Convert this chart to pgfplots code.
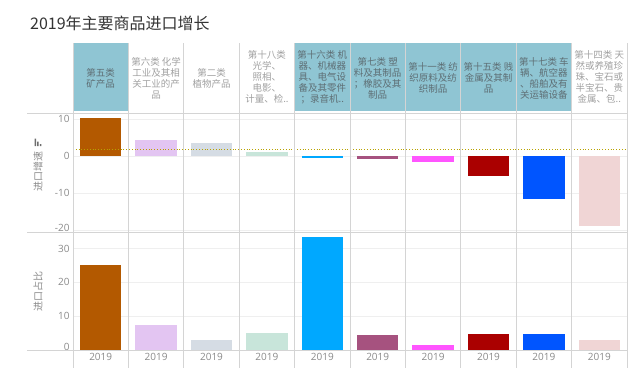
\documentclass[border=0pt]{standalone}
\usepackage{pgfplots}
\pgfplotsset{compat=1.18}
\usepackage{fontspec}
\setmainfont{Open Sans}
\newfontfamily\cjk{Noto Sans CJK SC}
\definecolor{hdrblue}{HTML}{8FC5D3}
\definecolor{sepc}{HTML}{D4D4D4}
\definecolor{gridc}{HTML}{EFEFEF}
\definecolor{tickgray}{HTML}{8A8A8A}
\definecolor{titlegray}{HTML}{333333}
\definecolor{hdrdark}{HTML}{5E6E74}
\definecolor{hdrlight}{HTML}{A0A0A0}
\definecolor{refc}{HTML}{B8A200}
\definecolor{c1}{HTML}{B35900}
\definecolor{c2}{HTML}{E3C5F2}
\definecolor{c3}{HTML}{D5DCE4}
\definecolor{c4}{HTML}{C8E5DA}
\definecolor{c5}{HTML}{00A8FF}
\definecolor{c6}{HTML}{A6527F}
\definecolor{c7}{HTML}{FF55FF}
\definecolor{c8}{HTML}{AA0000}
\definecolor{c9}{HTML}{0055FF}
\definecolor{c10}{HTML}{F0D5D5}
\newcommand\mybar[3]{\addplot[ybar, bar width=41.5pt, bar shift=0pt, fill=#1, draw=none] coordinates {(#2,#3)};}
\pgfplotsset{panel/.style={scale only axis, width=554pt, xmin=0.5, xmax=10.5,
  axis line style={draw=none}, major tick length=0pt, xtick=\empty,
  ymajorgrids, grid style={gridc, line width=0.6pt},
  yticklabel style={font=\fontsize{10}{12}\selectfont, text=tickgray},
  xticklabel style={font=\fontsize{10}{12}\selectfont, text=tickgray},
  clip=false}}
\begin{document}
\begin{tikzpicture}[x=1pt,y=1pt]
\path[use as bounding box] (0,0) rectangle (640,376);
\foreach \i in {1,5,6,7,8,9} { \fill[hdrblue] ({73+55.4*(\i-1)},265) rectangle ({73+55.4*\i},333); }
\node[anchor=base west, inner sep=0, text=titlegray] at (30,347) {\cjk\fontsize{16}{18}\selectfont 2019年主要商品进口增长};
\begin{scope}[every node/.style={align=center, inner sep=0, font=\cjk\fontsize{9.5}{11}\selectfont}]
\node[text=hdrdark] at ({73+55.4*0.5},298) {第五类\\矿产品};
\node[text=hdrlight] at ({73+55.4*1.5},298) {第六类 化学\\工业及其相\\关工业的产\\品};
\node[text=hdrlight] at ({73+55.4*2.5},298) {第二类\\植物产品};
\node[text=hdrlight] at ({73+55.4*3.5},299) {第十八类\\光学、\\照相、\\电影、\\计量、检..};
\node[text=hdrdark] at ({73+55.4*4.5},299) {第十六类 机\\器、机械器\\具、电气设\\备及其零件\\；录音机..};
\node[text=hdrdark] at ({73+55.4*5.5},298) {第七类 塑\\料及其制品\\；橡胶及其\\制品};
\node[text=hdrdark] at ({73+55.4*6.5},298) {第十一类 纺\\织原料及纺\\织制品};
\node[text=hdrdark] at ({73+55.4*7.5},298) {第十五类 贱\\金属及其制\\品};
\node[text=hdrdark] at ({73+55.4*8.5},298) {第十七类 车\\辆、航空器\\、船舶及有\\关运输设备};
\node[text=hdrlight] at ({73+55.4*9.5},299) {第十四类 天\\然或养殖珍\\珠、宝石或\\半宝石、贵\\金属、包..};
\end{scope}
\begin{axis}[panel, at={(73pt,144pt)}, anchor=south west, height=119pt,
  ymin=-20.5, ymax=11.6, ytick={-20,-10,0,10}, yticklabels={\raisebox{5pt}{-20},-10,0,10}]
\mybar{c1}{1}{10.2}
\mybar{c2}{2}{4.3}
\mybar{c3}{3}{3.4}
\mybar{c4}{4}{1.2}
\mybar{c5}{5}{-0.5}
\mybar{c6}{6}{-0.9}
\mybar{c7}{7}{-1.5}
\mybar{c8}{8}{-5.3}
\mybar{c9}{9}{-11.7}
\mybar{c10}{10}{-18.9}
\addplot[color=refc, dotted, line width=0.8pt] coordinates {(0.5,1.8) (10.5,1.8)};
\end{axis}
\begin{axis}[panel, at={(73pt,26pt)}, anchor=south west, height=118pt,
  ymin=0, ymax=34.9, ytick={0,10,20,30}, yticklabels={\raisebox{7pt}{0},10,20,30},
  xtick={1,2,3,4,5,6,7,8,9,10}, xticklabels={2019,2019,2019,2019,2019,2019,2019,2019,2019,2019}]
\mybar{c1}{1}{25.1}
\mybar{c2}{2}{7.5}
\mybar{c3}{3}{3.0}
\mybar{c4}{4}{4.9}
\mybar{c5}{5}{33.3}
\mybar{c6}{6}{4.3}
\mybar{c7}{7}{1.5}
\mybar{c8}{8}{4.8}
\mybar{c9}{9}{4.8}
\mybar{c10}{10}{3.0}
\end{axis}
\draw[sepc, line width=0.7pt] (27,263) -- (627,263) (27,144) -- (627,144) (27,26) -- (627,26);
\foreach \i in {0,...,10} { \draw[sepc, line width=0.7pt] ({73+55.4*\i},333) -- ({73+55.4*\i},8); }
\fill[tickgray!80!black] (34.5,230) rectangle (36,237.5) (37.2,230) rectangle (38.7,234.5) (39.9,230) rectangle (41.4,232);
\node[rotate=90, text=tickgray, font=\cjk\fontsize{10}{12}\selectfont] at (38,204.5) {进口增速};
\node[rotate=90, text=tickgray, font=\cjk\fontsize{10}{12}\selectfont] at (38,85) {进口占比};
\end{tikzpicture}
\end{document}
